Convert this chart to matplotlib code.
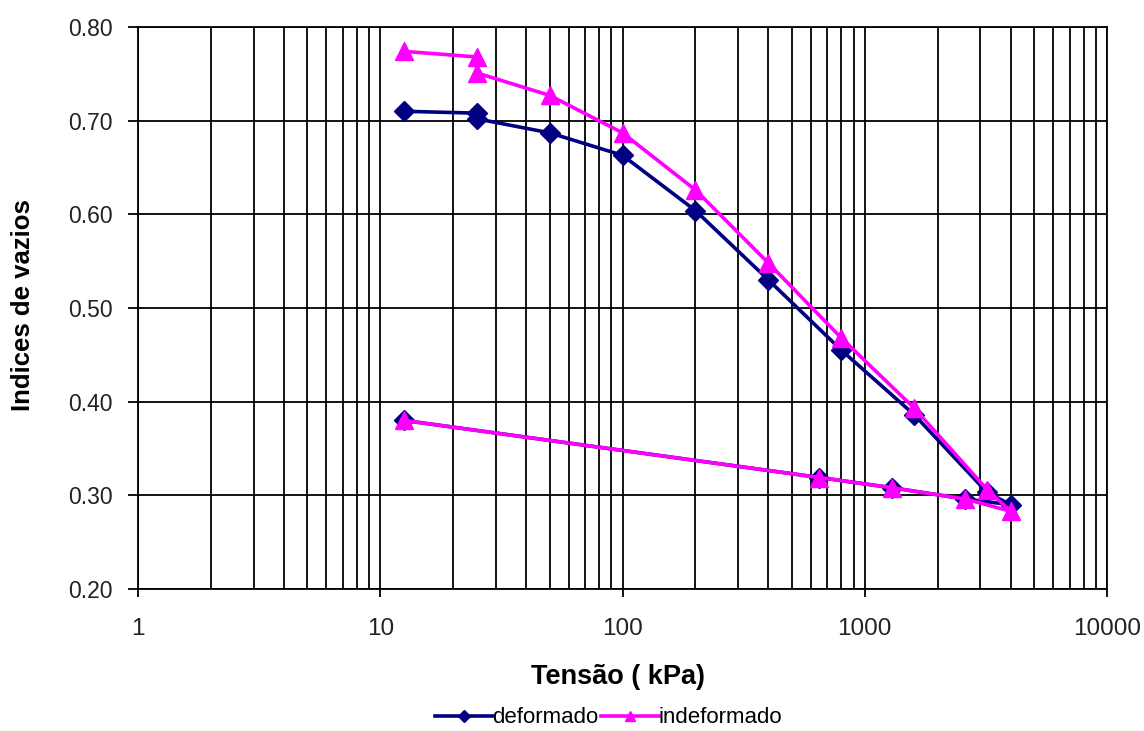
import matplotlib
matplotlib.use("Agg")
import matplotlib.pyplot as plt
from matplotlib.ticker import LogLocator, FixedLocator, NullFormatter, FuncFormatter

plt.rcParams['font.family'] = ['Liberation Sans', 'DejaVu Sans']

# Oedometer test: void ratio vs. vertical stress (loading then unloading)
tensao_def = [12.5, 25, 25, 50, 100, 200, 400, 800, 1600, 3200, 4000, 2600, 1300, 650, 12.5]
vazios_def = [0.710, 0.708, 0.702, 0.687, 0.663, 0.604, 0.530, 0.455, 0.386, 0.303, 0.290,
              0.296, 0.308, 0.319, 0.380]

tensao_ind = [12.5, 25, 25, 50, 100, 200, 400, 800, 1600, 3200, 4000, 2600, 1300, 650, 12.5]
vazios_ind = [0.774, 0.768, 0.751, 0.727, 0.687, 0.626, 0.548, 0.468, 0.393, 0.306, 0.283,
              0.296, 0.308, 0.319, 0.380]

x_ticks = [1, 10, 100, 1000, 10000]
y_ticks = [0.20, 0.30, 0.40, 0.50, 0.60, 0.70, 0.80]

fig = plt.figure(figsize=(11.44, 7.31), dpi=100)
ax = fig.add_axes([0.1206, 0.1943, 0.8471, 0.7688])

ax.plot(tensao_def, vazios_def, color='#000080', lw=2.6, marker='D', ms=10.5,
        label='deformado', zorder=3)
ax.plot(tensao_ind, vazios_ind, color='#FF00FF', lw=2.6, marker='^', ms=13,
        label='indeformado', zorder=4)

ax.set_xscale('log')
ax.set_xlim(1, 10000)
ax.set_ylim(0.20, 0.80)
ax.xaxis.set_major_locator(FixedLocator(x_ticks))
ax.xaxis.set_minor_locator(LogLocator(base=10, subs=range(2, 10), numticks=20))
ax.xaxis.set_minor_formatter(NullFormatter())
ax.xaxis.set_major_formatter(FuncFormatter(lambda v, p: f"{v:g}"))
ax.yaxis.set_major_locator(FixedLocator(y_ticks))
ax.yaxis.set_major_formatter(FuncFormatter(lambda v, p: f"{v:.2f}"))

ax.grid(which='major', color='black', lw=1.3)
ax.grid(which='minor', axis='x', color='black', lw=1.3)
ax.set_axisbelow(True)
for s in ax.spines.values():
    s.set_color('black')
    s.set_linewidth(1.3)

ax.tick_params(axis='y', which='major', direction='out', length=7, width=1.3,
               labelsize=16.5, colors='black', pad=11)
ax.tick_params(axis='x', which='major', direction='out', length=6, width=1.3,
               labelsize=17.5, colors='black', pad=15)
ax.tick_params(axis='x', which='minor', length=0)
for lbl in ax.get_xticklabels() + ax.get_yticklabels():
    lbl.set_color('#222222')

ax.set_xlabel('Tensão ( kPa)', fontsize=19.5, fontweight='bold')
ax.set_ylabel('Indices de vazios', fontsize=18.5, fontweight='bold')
ax.xaxis.set_label_coords(0.495, -0.133)
ax.yaxis.set_label_coords(-0.106, 0.505)

fig.legend(loc='center', bbox_to_anchor=(0.532, 0.018), ncol=2, frameon=False,
           prop={'size': 16}, handlelength=2.6, handletextpad=0.0,
           columnspacing=0.1, markerscale=0.55, borderpad=0)

fig.savefig('out.png', dpi=100, facecolor='white')
